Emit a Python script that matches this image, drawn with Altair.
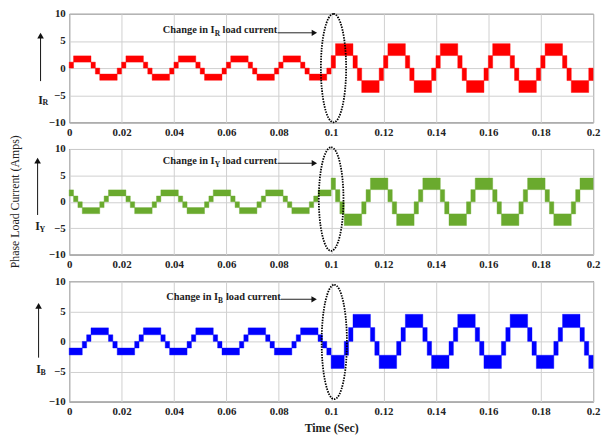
import altair as alt
import pandas as pd

# ---------------- data ----------------
X_TICKS = [0, 0.02, 0.04, 0.06, 0.08, 0.1, 0.12, 0.14, 0.16, 0.18, 0.2]
Y_TICKS = [-10, -5, 0, 5, 10]
CELL = 1 / 600          # width of one step of the staircase (s)
CHANGE_T = 0.1          # instant of load change (s)

# step codes per 20 ms period: u = upper step, T = top, l = lower step, B = bottom
R_STEPS = ["uTTTTulBBBBl", "uTTTTulBBBBl", "uTTTTulBBBBl", "uTTTTulBBBBl", "uTTTTulBBBBl",
           "uTTTTulBBBBl", "uTTTTulBBBBl", "uTTTTulBBBBl", "uTTTTulBBBBl", "uTTTTulBBBBl"]
Y_STEPS = ["TulBBBBluTTT", "TulBBBBluTTT", "TulBBBBluTTT", "TulBBBBluTTT", "TulBBBBluTTT",
           "TulBBBBluTTT", "TulBBBBluTTT", "TulBBBBluTTT", "TulBBBBluTTT", "TulBBBBluTTT"]
B_STEPS = ["BBBluTTTTulB", "BBBluTTTTulB", "BBBluTTTTulB", "BBBluTTTTulB", "BBBluTTTTulB",
           "BBBluTTTTulB", "BBBluTTTTulB", "BBBluTTTTulB", "BBBluTTTTulB", "BBBluTTTTulB"]

# band limits (A) of each step code, before and after the load change
LEVELS_BEFORE = {"T": (1.1, 2.25), "u": (0.0, 1.1), "l": (-1.1, 0.0), "B": (-2.25, -1.1)}
LEVELS_AFTER = {"T": (2.3, 4.5), "u": (0.0, 2.3), "l": (-2.3, 0.0), "B": (-4.5, -2.3)}

PHASE_NAMES = ["R", "Y", "B"]
PHASE_COLORS = ["#FF0000", "#6AAA2E", "#0000FF"]

# ---------------- layout / annotation settings ----------------
PANELS = [
    dict(steps=R_STEPS, sub="R", height=110, text_y=7.0, arrow_y=6.5, text_t=0.0559,
         arrow_t0=0.0796, arrow_t1=0.0954, ell_t=0.1009, ell_v=0.0, ell_h=110, ell_w=25.6,
         la_top=6.0, la_bot=-2.4, lbl_v=-5.8, lbl_x=-29),
    dict(steps=Y_STEPS, sub="Y", height=107, text_y=7.7, arrow_y=7.3, text_t=0.0559,
         arrow_t0=0.0796, arrow_t1=0.0954, ell_t=0.1, ell_v=0.5, ell_h=105, ell_w=25.0,
         la_top=7.8, la_bot=-2.5, lbl_v=-4.6, lbl_x=-32),
    dict(steps=B_STEPS, sub="B", height=122, text_y=7.4, arrow_y=7.0, text_t=0.0572,
         arrow_t0=0.0808, arrow_t1=0.0953, ell_t=0.1012, ell_v=-0.1, ell_h=116, ell_w=25.6,
         la_top=5.9, la_bot=-2.7, lbl_v=-4.6, lbl_x=-31),
]

SERIF = "Liberation Serif"
XS = alt.Scale(domain=[0, 0.2], nice=False, zero=False)
YS = alt.Scale(domain=[-10, 10], nice=False, zero=False)


def build_rects(steps):
    codes = "".join(steps)
    rows = []
    for i, c in enumerate(codes):
        t0 = i * CELL
        regime = "before" if t0 < CHANGE_T - 1e-9 else "after"
        lv = LEVELS_BEFORE if regime == "before" else LEVELS_AFTER
        lo, hi = lv[c]
        if rows and rows[-1]["code"] == c and rows[-1]["regime"] == regime:
            rows[-1]["t1"] = t0 + CELL
        else:
            rows.append(dict(code=c, regime=regime, t0=t0, t1=t0 + CELL, lo=lo, hi=hi))
    return pd.DataFrame(rows)


def ellipse_path(a):
    k = 0.5523
    return (f"M0,-1C{k*a:.4f},-1 {a:.4f},{-k} {a:.4f},0"
            f"C{a:.4f},{k} {k*a:.4f},1 0,1"
            f"C{-k*a:.4f},1 {-a:.4f},{k} {-a:.4f},0"
            f"C{-a:.4f},{-k} {-k*a:.4f},-1 0,-1Z")


def make_panel(idx, cfg):
    color = PHASE_COLORS[idx]
    last = idx == len(PANELS) - 1
    x_axis = alt.Axis(values=X_TICKS, format="~g", grid=True, gridColor="#cfcfcf",
                      ticks=False, domain=False, labelFlush=False, labelPadding=4,
                      labelFont=SERIF, labelFontWeight="bold", labelFontSize=11,
                      labelColor="#222222",
                      title="Time (Sec)" if last else "",
                      titleFont=SERIF, titleFontWeight="bold", titleFontSize=12,
                      titleColor="#222222", titlePadding=6)
    y_axis = alt.Axis(values=Y_TICKS, grid=True, gridColor="#cfcfcf", ticks=False,
                      domain=False, labelFlush=False, labelPadding=4,
                      labelFont=SERIF, labelFontWeight="bold", labelFontSize=11,
                      labelColor="#222222", title="")

    def X(f):
        return alt.X(f, scale=XS, axis=x_axis)

    def Y(f):
        return alt.Y(f, scale=YS, axis=y_axis)

    rects = alt.Chart(build_rects(cfg["steps"])).mark_rect(
        color=color, stroke=color, strokeWidth=0.4
    ).encode(x=X("t0:Q"), x2="t1:Q", y=Y("lo:Q"), y2="hi:Q")

    ell = alt.Chart(pd.DataFrame({"t": [cfg["ell_t"]], "v": [cfg["ell_v"]]})).mark_point(
        shape=ellipse_path(cfg["ell_w"] / cfg["ell_h"]), filled=False, stroke="black",
        strokeWidth=1.8, strokeDash=[1.5, 1.2], opacity=1, size=cfg["ell_h"] ** 2
    ).encode(x=X("t:Q"), y=Y("v:Q"))

    ann_pt = pd.DataFrame({"t": [cfg["text_t"]], "v": [cfg["text_y"]]})
    tfont = dict(font=SERIF, fontWeight="bold", color="#222222")
    t1 = alt.Chart(ann_pt).mark_text(text="Change in I", align="right", baseline="middle",
                                     fontSize=10.5, dx=-1, **tfont).encode(
        x=X("t:Q"), y=Y("v:Q"))
    t2 = alt.Chart(ann_pt).mark_text(text=cfg["sub"], align="left", baseline="middle",
                                     fontSize=7.5, dx=-1, dy=4, **tfont).encode(
        x=X("t:Q"), y=Y("v:Q"))
    t3 = alt.Chart(ann_pt).mark_text(text="load current", align="left", baseline="middle",
                                     fontSize=10.5, dx=7, **tfont).encode(
        x=X("t:Q"), y=Y("v:Q"))

    arr = pd.DataFrame({"t0": [cfg["arrow_t0"]], "t1": [cfg["arrow_t1"] - 0.002],
                        "v": [cfg["arrow_y"]]})
    arr_line = alt.Chart(arr).mark_rule(color="#222222", strokeWidth=1).encode(
        x=X("t0:Q"), x2="t1:Q", y=Y("v:Q"))
    head = pd.DataFrame({"t": [cfg["arrow_t1"] - 0.0018], "v": [cfg["arrow_y"]]})
    arr_head = alt.Chart(head).mark_point(shape="triangle-right", filled=True,
                                          color="#111111", opacity=1, size=40).encode(
        x=X("t:Q"), y=Y("v:Q"))

    la = pd.DataFrame({"v0": [cfg["la_bot"]], "v1": [cfg["la_top"]]})
    la_line = alt.Chart(la).mark_rule(color="#111111", strokeWidth=1).encode(
        x=alt.value(cfg["lbl_x"]), y=Y("v0:Q"), y2="v1:Q")
    la_head = alt.Chart(pd.DataFrame({"v": [cfg["la_top"]]})).mark_point(
        shape="triangle-up", filled=True, color="#111111", opacity=1, size=45
    ).encode(x=alt.value(cfg["lbl_x"]), y=Y("v:Q"))
    lbl = pd.DataFrame({"v": [cfg["lbl_v"]]})
    l1 = alt.Chart(lbl).mark_text(text="I", align="center", baseline="middle", fontSize=12,
                                  **tfont).encode(x=alt.value(cfg["lbl_x"]), y=Y("v:Q"))
    l2 = alt.Chart(lbl).mark_text(text=cfg["sub"], align="left", baseline="middle",
                                  fontSize=8, dx=2, dy=4, **tfont).encode(
        x=alt.value(cfg["lbl_x"]), y=Y("v:Q"))

    layers = [rects, ell, t1, t2, t3, arr_line, arr_head, la_line, la_head, l1, l2]
    if idx == 1:
        yt = alt.Chart(pd.DataFrame({"v": [0.0]})).mark_text(
            text="Phase Load Current (Amps)", angle=270, align="center", baseline="middle",
            fontSize=12, font=SERIF, color="#222222"
        ).encode(x=alt.value(-55), y=Y("v:Q"))
        layers.append(yt)

    return alt.layer(*layers).properties(width=531, height=cfg["height"])


panels = [make_panel(i, c) for i, c in enumerate(PANELS)]
chart = alt.vconcat(*panels, spacing=27, bounds="flush").configure_view(
    stroke="#222222", strokeWidth=1
).properties(padding={"top": -4, "left": 0, "right": 0, "bottom": 0}, background="white")

chart.save("out.html", embed_options={"renderer": "svg", "actions": False})
